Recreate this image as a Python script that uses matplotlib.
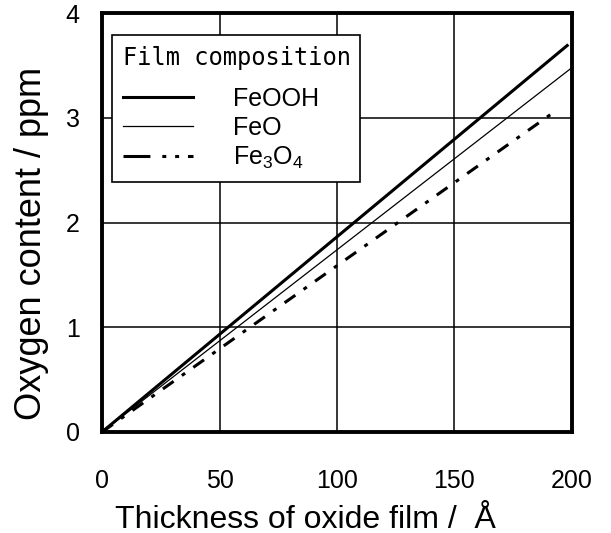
import numpy as np
import matplotlib.pyplot as plt
from matplotlib.lines import Line2D

# film thickness (Angstrom) vs oxygen content (ppm)
thick_feooh = [0, 198]
feooh = [0, 3.69]
thick_feo = [0, 199.5]
feo = [0, 3.47]
thick_fe3o4 = [0, 194]
fe3o4 = [0, 3.08]

names = ['FeOOH', 'FeO', 'Fe$_3$O$_4$']

plt.rcParams['font.family'] = ['Liberation Sans', 'DejaVu Sans']
plt.rcParams['mathtext.default'] = 'regular'

fig = plt.figure(figsize=(6.11, 5.33), dpi=100)
ax = fig.add_axes([0.167, 0.1895, 0.769, 0.786])

ax.plot(thick_feooh, feooh, color='black', lw=2.2)
ax.plot(thick_feo, feo, color='black', lw=0.9)
ax.plot(thick_fe3o4, fe3o4, color='black', lw=2.2,
        dashes=(4.3, 3.3, 1.3, 3.3))

ax.set_xlim(0, 200)
ax.set_ylim(0, 4)
ax.set_xticks([0, 50, 100, 150, 200])
ax.set_yticks([0, 1, 2, 3, 4])
ax.grid(True, color='black', lw=1.1)
ax.set_axisbelow(True)
ax.tick_params(length=0, labelsize=18)
ax.tick_params(axis='x', pad=27)
ax.tick_params(axis='y', pad=16)
for s in ax.spines.values():
    s.set_linewidth(2.8)

ax.set_xlabel('Thickness of oxide film /  Å', fontsize=23)
ax.xaxis.label.set_va('baseline')
ax.xaxis.set_label_coords(0.432, -0.228)
ax.set_ylabel('Oxygen content / ppm', fontsize=26)
ax.yaxis.set_label_coords(-0.113, 0.45)

# legend handles (the dash-dot key is drawn with a longer first dash)
handles = [Line2D([], [], color='black', lw=2.2),
           Line2D([], [], color='black', lw=0.9),
           Line2D([], [], color='black', lw=2.2, dashes=(8.8, 3.9, 1.3, 2.9, 1.3, 2.9))]
leg = ax.legend(handles, names, loc='upper left', mode='expand',
                bbox_to_anchor=(0.0213, 0.589, 0.528, 0.358), borderaxespad=0,
                title='Film composition', fontsize=18, frameon=True,
                fancybox=False, handlelength=2.8, handletextpad=1.6,
                borderpad=0.44, labelspacing=0.2, alignment='left')
leg.get_title().set_family('DejaVu Sans Mono')
leg.get_title().set_fontsize(17)
leg._legend_box.sep = 12
leg.get_frame().set_edgecolor('black')
leg.get_frame().set_linewidth(1.2)
leg.get_frame().set_alpha(1)

plt.savefig('out.png', dpi=100)
